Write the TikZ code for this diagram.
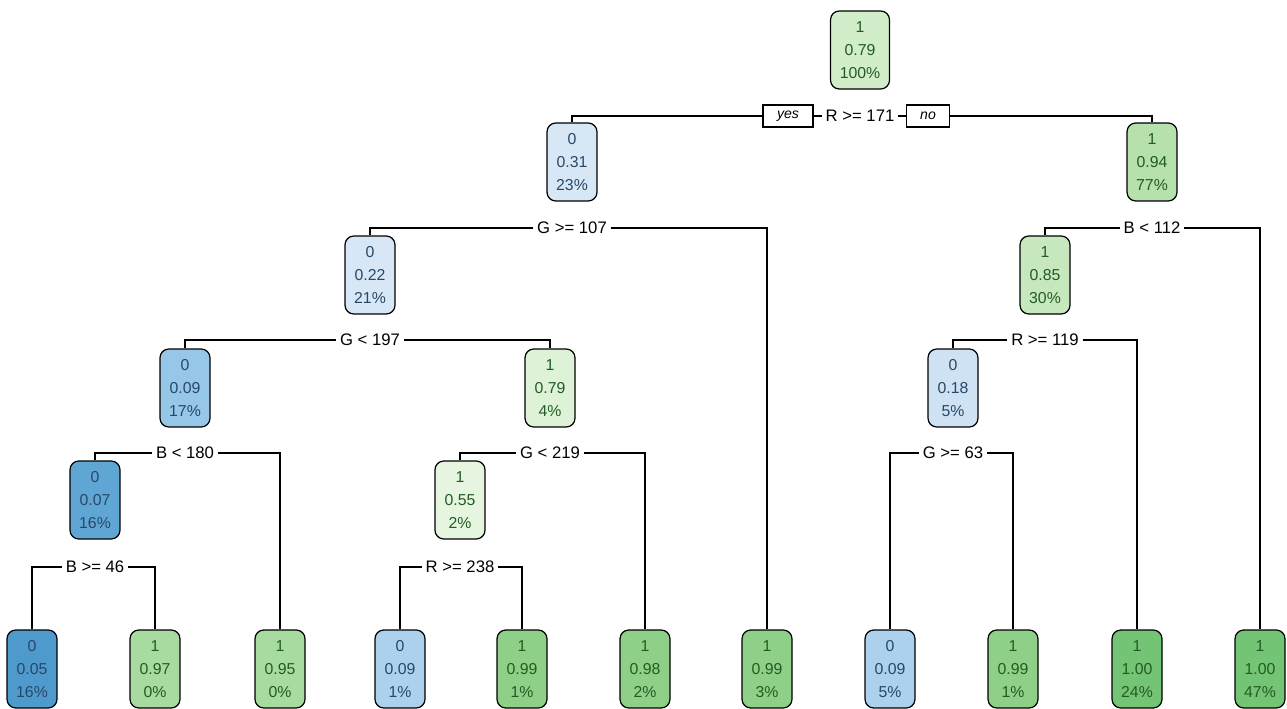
\documentclass[tikz,border=0pt]{standalone}
\usepackage{fontspec}
\setmainfont{Liberation Sans}
\usepackage{xcolor}
\usetikzlibrary{positioning}

\definecolor{bdark}{RGB}{78,154,204}
\definecolor{bmid}{RGB}{96,166,212}
\definecolor{bnode}{RGB}{150,198,232}
\definecolor{bleaf}{RGB}{172,209,236}
\definecolor{blight}{RGB}{206,226,243}
\definecolor{bpale}{RGB}{216,231,245}
\definecolor{gpale}{RGB}{229,245,224}
\definecolor{glight}{RGB}{222,242,215}
\definecolor{groot}{RGB}{210,237,202}
\definecolor{gmid}{RGB}{199,232,191}
\definecolor{gnode}{RGB}{182,224,172}
\definecolor{gleaf}{RGB}{168,219,160}
\definecolor{gdeep}{RGB}{142,208,136}
\definecolor{gfull}{RGB}{116,196,117}
\definecolor{txtzero}{RGB}{40,72,104}
\definecolor{txtone}{RGB}{34,92,34}

\begin{document}
\begin{tikzpicture}[
  x=0.02cm, y=-0.02cm,
  box/.style={draw, line width=0.7pt, rounded corners=5pt, align=center,
    minimum width=1cm, minimum height=1.56cm, inner sep=1.5pt,
    font=\fontsize{9}{13}\selectfont},
  zero/.style={box, text=txtzero},
  one/.style={box, text=txtone},
  cond/.style={fill=white, inner sep=2pt, font=\fontsize{9.5}{11}\selectfont},
  tag/.style={draw, line width=0.6pt, inner sep=0pt, minimum height=0.44cm,
    font=\fontsize{8}{9}\selectfont\itshape},
  edge/.style={line width=0.7pt},
]
\useasboundingbox (0,0) rectangle (1287,709);

% inner nodes
\node[one, fill=groot, minimum width=1.18cm] (root) at (860,50) {1\\0.79\\100\%};
\node[zero, fill=bpale] (n2) at (572,162) {0\\0.31\\23\%};
\node[one, fill=gnode] (n3) at (1152,162) {1\\0.94\\77\%};
\node[zero, fill=bpale] (n4) at (370,275) {0\\0.22\\21\%};
\node[one, fill=gmid] (n5) at (1045,275) {1\\0.85\\30\%};
\node[zero, fill=bnode] (n6) at (185,388) {0\\0.09\\17\%};
\node[one, fill=glight] (n7) at (550,388) {1\\0.79\\4\%};
\node[zero, fill=blight] (n8) at (953,388) {0\\0.18\\5\%};
\node[zero, fill=bmid] (n9) at (95,500) {0\\0.07\\16\%};
\node[one, fill=gpale] (n10) at (460,500) {1\\0.55\\2\%};

% leaves
\node[zero, fill=bdark] (l1) at (32,669) {0\\0.05\\16\%};
\node[one, fill=gleaf] (l2) at (155,669) {1\\0.97\\0\%};
\node[one, fill=gleaf] (l3) at (280,669) {1\\0.95\\0\%};
\node[zero, fill=bleaf] (l4) at (400,669) {0\\0.09\\1\%};
\node[one, fill=gdeep] (l5) at (522,669) {1\\0.99\\1\%};
\node[one, fill=gdeep] (l6) at (645,669) {1\\0.98\\2\%};
\node[one, fill=gdeep] (l7) at (767,669) {1\\0.99\\3\%};
\node[zero, fill=bleaf] (l8) at (890,669) {0\\0.09\\5\%};
\node[one, fill=gdeep] (l9) at (1013,669) {1\\0.99\\1\%};
\node[one, fill=gfull] (l10) at (1137,669) {1\\1.00\\24\%};
\node[one, fill=gfull] (l11) at (1260,669) {1\\1.00\\47\%};

% split labels
\node[cond] (s1) at (860,116) {R >= 171};
\node[tag, minimum width=1cm] (yes) at (788,116) {yes};
\node[tag, minimum width=0.86cm] (no) at (928,116) {no};
\node[cond] (s2) at (572,228) {G >= 107};
\node[cond] (s3) at (1152,228) {B < 112};
\node[cond] (s4) at (370,340) {G < 197};
\node[cond] (s5) at (1045,340) {R >= 119};
\node[cond] (s6) at (185,453) {B < 180};
\node[cond] (s7) at (550,453) {G < 219};
\node[cond] (s8) at (953,453) {G >= 63};
\node[cond] (s9) at (95,567) {B >= 46};
\node[cond] (s10) at (460,567) {R >= 238};

% branches
\draw[edge] (yes.west) -| (n2.north);
\draw[edge] (yes.east) -- (s1.west);
\draw[edge] (s1.east) -- (no.west);
\draw[edge] (no.east) -| (n3.north);
\draw[edge] (s2.west) -| (n4.north);
\draw[edge] (s2.east) -| (l7.north);
\draw[edge] (s3.west) -| (n5.north);
\draw[edge] (s3.east) -| (l11.north);
\draw[edge] (s4.west) -| (n6.north);
\draw[edge] (s4.east) -| (n7.north);
\draw[edge] (s5.west) -| (n8.north);
\draw[edge] (s5.east) -| (l10.north);
\draw[edge] (s6.west) -| (n9.north);
\draw[edge] (s6.east) -| (l3.north);
\draw[edge] (s7.west) -| (n10.north);
\draw[edge] (s7.east) -| (l6.north);
\draw[edge] (s8.west) -| (l8.north);
\draw[edge] (s8.east) -| (l9.north);
\draw[edge] (s9.west) -| (l1.north);
\draw[edge] (s9.east) -| (l2.north);
\draw[edge] (s10.west) -| (l4.north);
\draw[edge] (s10.east) -| (l5.north);
\end{tikzpicture}
\end{document}
